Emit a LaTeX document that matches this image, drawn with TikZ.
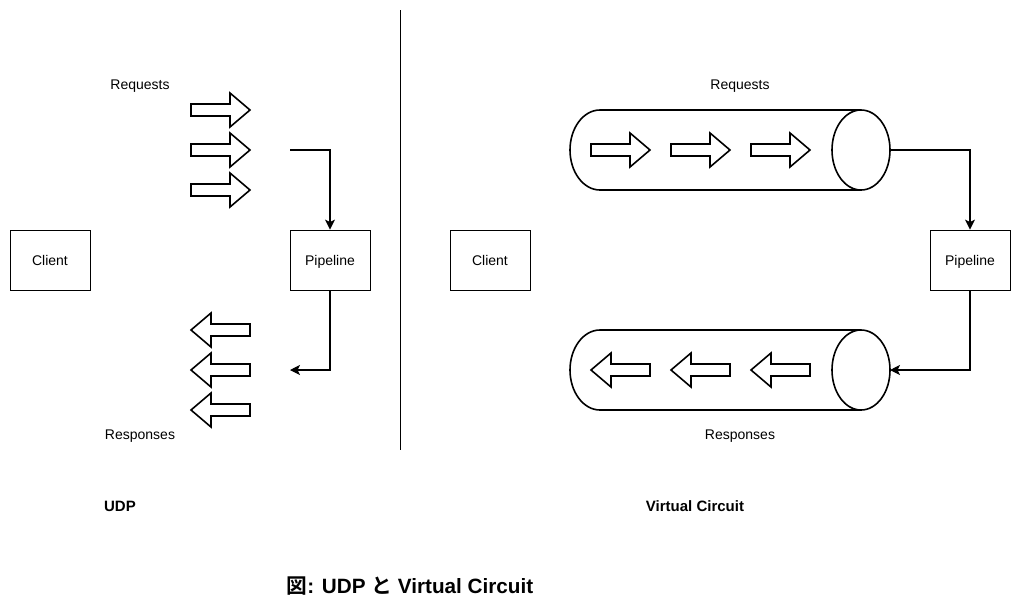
\documentclass[tikz,border=0pt]{standalone}
\usepackage{fontspec}
\setmainfont{Liberation Sans}
\newfontfamily\cjk{Noto Sans CJK JP}[BoldFont={Noto Sans CJK JP Bold}]
\usetikzlibrary{arrows.meta}

\begin{document}
\begin{tikzpicture}[x=1pt,y=-1pt,
    box/.style={draw,line width=0.8pt,minimum width=80pt,minimum height=60pt,inner sep=0pt,text height=11.4pt,text depth=0pt,font=\fontsize{14}{16}\selectfont},
    lbl/.style={font=\fontsize{14}{16}\selectfont},
    hdr/.style={font=\fontsize{15}{17}\selectfont\bfseries},
    blk/.style={draw,line width=1.6pt,fill=white,line join=miter},
    conn/.style={line width=1.1pt,-{Stealth[length=10pt,width=10pt,inset=2.5pt]}}]
    \useasboundingbox (0,0) rectangle (1021,611);
    % UDP side
    \node[box] (cliL) at (50,260) {Client};
    \node[box] (pipeL) at (330,260) {Pipeline};
    \node[lbl] (reqL) at (140,86.5) {Requests};
    \node[lbl] (resL) at (140,436.5) {Responses};
    \node[hdr] (udp) at (120,506) {UDP};
    \draw[blk] (191,104)--(230,104)--(230,93)--(250,110)--(230,127)--(230,116)--(191,116)--cycle;
    \draw[blk] (191,144)--(230,144)--(230,133)--(250,150)--(230,167)--(230,156)--(191,156)--cycle;
    \draw[blk] (191,184)--(230,184)--(230,173)--(250,190)--(230,207)--(230,196)--(191,196)--cycle;
    \draw[blk] (250,324)--(211,324)--(211,313)--(191,330)--(211,347)--(211,336)--(250,336)--cycle;
    \draw[blk] (250,364)--(211,364)--(211,353)--(191,370)--(211,387)--(211,376)--(250,376)--cycle;
    \draw[blk] (250,404)--(211,404)--(211,393)--(191,410)--(211,427)--(211,416)--(250,416)--cycle;
    \coordinate (inL) at (290,150);
    \coordinate (outL) at (290,370);
    \draw[conn] (inL) -| (pipeL.north);
    \draw[conn] (pipeL.south) |- (outL);
    % divider
    \draw[line width=0.8pt] (400,10)--(400,450);
    % Virtual Circuit side
    \node[box] (cliR) at (490,260) {Client};
    \node[box] (pipeR) at (970,260) {Pipeline};
    \node[lbl] (reqR) at (740,86.5) {Requests};
    \node[lbl] (resR) at (740,436.5) {Responses};
    \node[hdr] (vc) at (695,506) {Virtual Circuit};
    \draw[blk] (861,110)--(600,110) arc[start angle=90,end angle=270,x radius=30,y radius=-40]--(861,190);
    \draw[blk] (861,150) ellipse[x radius=29,y radius=40];
    \draw[blk] (861,330)--(600,330) arc[start angle=90,end angle=270,x radius=30,y radius=-40]--(861,410);
    \draw[blk] (861,370) ellipse[x radius=29,y radius=40];
    \draw[blk] (591,144)--(630,144)--(630,133)--(650,150)--(630,167)--(630,156)--(591,156)--cycle;
    \draw[blk] (671,144)--(710,144)--(710,133)--(730,150)--(710,167)--(710,156)--(671,156)--cycle;
    \draw[blk] (751,144)--(790,144)--(790,133)--(810,150)--(790,167)--(790,156)--(751,156)--cycle;
    \draw[blk] (650,364)--(611,364)--(611,353)--(591,370)--(611,387)--(611,376)--(650,376)--cycle;
    \draw[blk] (730,364)--(691,364)--(691,353)--(671,370)--(691,387)--(691,376)--(730,376)--cycle;
    \draw[blk] (810,364)--(771,364)--(771,353)--(751,370)--(771,387)--(771,376)--(810,376)--cycle;
    \coordinate (inR) at (890,150);
    \coordinate (outR) at (890,370);
    \draw[conn] (inR) -| (pipeR.north);
    \draw[conn] (pipeR.south) |- (outR);
    % caption
    \node[font=\fontsize{20.7}{24}\selectfont\bfseries] (cap) at (410,586) {{\cjk 図}: UDP {\cjk と} Virtual Circuit};
\end{tikzpicture}
\end{document}
